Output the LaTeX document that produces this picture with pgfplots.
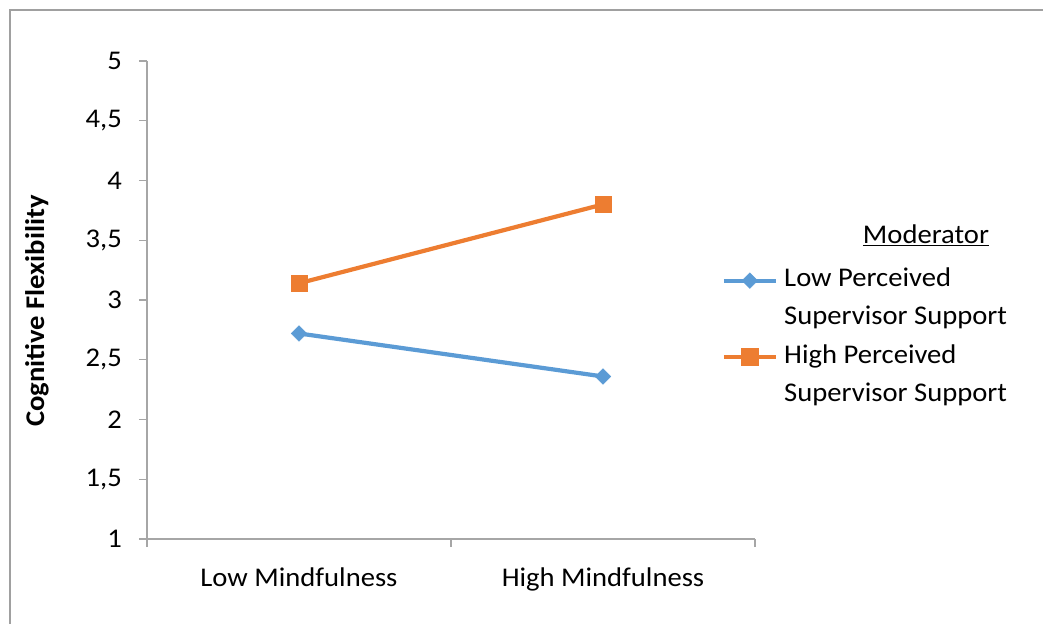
\documentclass[border=0pt]{standalone}
\usepackage{fontspec}
\setmainfont{Carlito}[FakeStretch=1.06]
\usepackage{pgfplots}
\pgfplotsset{compat=1.18}
\definecolor{sblue}{HTML}{5B9BD5}
\definecolor{sorange}{HTML}{ED7D31}
\definecolor{axgray}{HTML}{A6A6A6}
\definecolor{framegray}{HTML}{A0A0A0}
\begin{document}
\fontsize{27}{32}\selectfont
\begin{tikzpicture}[x=1pt,y=1pt]
\path[use as bounding box] (0,0) rectangle (1043,624);
\draw[framegray, line width=1.2pt] (10,0) -- (10,614) -- (1043,614);
\begin{axis}[
  at={(147pt,85pt)}, anchor=south west,
  scale only axis, width=608pt, height=478pt,
  xmin=0, xmax=2, ymin=1, ymax=5,
  axis x line*=bottom, axis y line*=left,
  axis line style={axgray, line width=1.2pt},
  xtick={0,1,2}, xticklabels={},
  ytick={1,1.5,...,5},
  tick align=outside, major tick length=8pt,
  tick style={axgray, line width=1.2pt},
  yticklabel style={xshift=-8pt},
  extra x ticks={0.5,1.5},
  extra x tick labels={Low Mindfulness, High Mindfulness},
  extra x tick style={major tick length=0pt, xticklabel style={yshift=-20pt}},
  /pgf/number format/use comma,
  /pgf/number format/assume math mode=true,
  ylabel={\bfseries Cognitive Flexibility},
  ylabel style={at={(axis description cs:-0.181,0.477)}, anchor=center},
  legend style={draw=none, fill=none, at={(axis description cs:0.94,0.585)}, anchor=north west,
     row sep=0pt, nodes={text height=19pt, text depth=6.5pt, inner sep=6.3pt}},
  legend cell align=left,
  legend image code/.code={\draw[mark repeat=2,mark phase=2,#1] plot coordinates {(0pt,0pt) (26pt,0pt) (52pt,0pt)};},
]
\addplot[sblue, line width=4.2pt, mark=square*, mark size=5.5pt, mark options={rotate=45, solid, line width=0.5pt}] coordinates {(0.5,2.72) (1.5,2.36)};
\addlegendentry{Low Perceived}
\addlegendimage{empty legend}\addlegendentry{Supervisor Support}
\addplot[sorange, line width=4.2pt, mark=square*, mark size=8.2pt, mark options={solid, line width=0.5pt}] coordinates {(0.5,3.14) (1.5,3.80)};
\addlegendentry{High Perceived}
\addlegendimage{empty legend}\addlegendentry{Supervisor Support}
\end{axis}
\node[anchor=base] at (926,380) {\underline{Moderator}};
\end{tikzpicture}
\end{document}
